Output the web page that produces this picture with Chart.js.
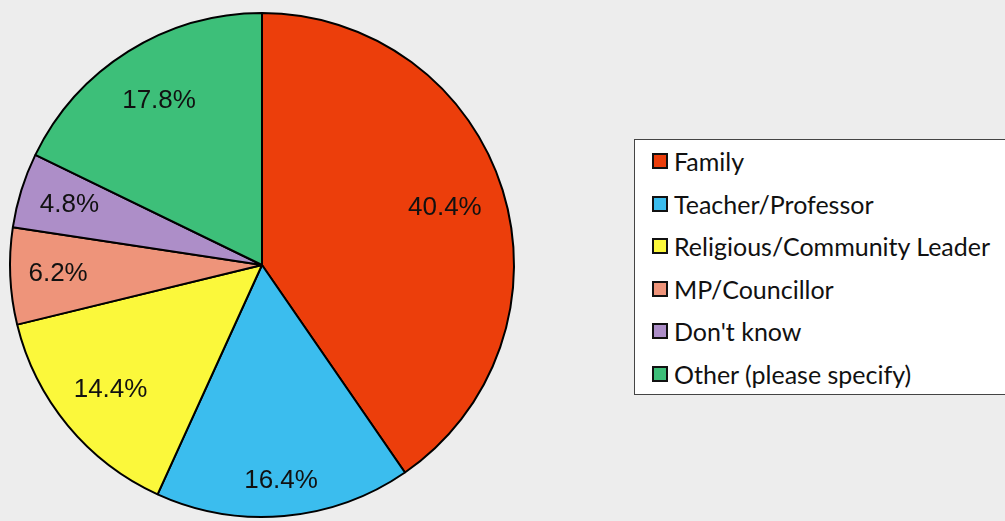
<!DOCTYPE html>
<html>
<head>
<meta charset="utf-8">
<script src="https://cdn.jsdelivr.net/npm/chart.js@4"></script>
<style>
  html, body { margin: 0; padding: 0; background: #ededed; }
  #wrap { position: relative; width: 1005px; height: 521px; overflow: hidden; }
  #pie-box { position: absolute; left: 0; top: 0; width: 530px; height: 521px; }
  #legend {
    position: absolute; left: 634px; top: 139px; width: 380px; height: 256px;
    background: #fff; border: 1px solid #444; box-sizing: border-box;
    font-family: Lato, "Open Sans", sans-serif; font-size: 25px; color: #111;
    padding-top: 0;
  }
  .item { height: 42.5px; display: flex; align-items: center; padding-left: 17px; }
  .swatch { width: 16px; height: 16px; border: 2px solid #111; box-sizing: border-box; margin-right: 6px; flex: none; }
</style>
</head>
<body>
<div id="wrap">
  <div id="pie-box"><canvas id="myChart" width="530" height="521"></canvas></div>
  <div id="legend"></div>
</div>
<script>
// 类别与占比
const categories = ['Family', 'Teacher/Professor', 'Religious/Community Leader', 'MP/Councillor', "Don't know", 'Other (please specify)'];
const percents = [40.4, 16.4, 14.4, 6.2, 4.8, 17.8];
const colors = ['#ec3e0b', '#3bbdee', '#fbf83b', '#ee947a', '#ad8ec8', '#3dbf79'];

// 标签离圆心的距离 (半径比例)
const labelRadius = [0.76, 0.86, 0.78, 0.81, 0.8, 0.77];

// 饼图上的百分比标签
const pctLabels = {
    id: 'pctLabels',
    afterDatasetsDraw(chart) {
        const ctx = chart.ctx;
        const meta = chart.getDatasetMeta(0);
        ctx.save();
        ctx.font = '26px "Liberation Sans", Arial, sans-serif';
        ctx.fillStyle = '#111';
        ctx.textAlign = 'center';
        ctx.textBaseline = 'middle';
        meta.data.forEach((arc, i) => {
            const mid = (arc.startAngle + arc.endAngle) / 2;
            const r = arc.outerRadius * labelRadius[i];
            const x = arc.x + Math.cos(mid) * r;
            const y = arc.y + Math.sin(mid) * r;
            ctx.fillText(percents[i].toFixed(1) + '%', x, y);
        });
        ctx.restore();
    }
};

const chart = new Chart(document.getElementById('myChart').getContext('2d'), {
    type: 'pie',
    data: {
        labels: categories,
        datasets: [{
            data: percents,
            backgroundColor: colors,
            borderColor: '#000',
            borderWidth: 2
        }]
    },
    options: {
        responsive: false,
        animation: false,
        layout: { padding: { left: 9, top: 12, right: 15, bottom: 3 } },
        plugins: {
            legend: { display: false },
            tooltip: { enabled: false }
        }
    },
    plugins: [pctLabels]
});

// 图例
const legend = document.getElementById('legend');
categories.forEach((name, i) => {
    const row = document.createElement('div');
    row.className = 'item';
    row.innerHTML = `<span class="swatch" style="background:${colors[i]}"></span><span>${name}</span>`;
    legend.appendChild(row);
});
</script>
</body>
</html>
